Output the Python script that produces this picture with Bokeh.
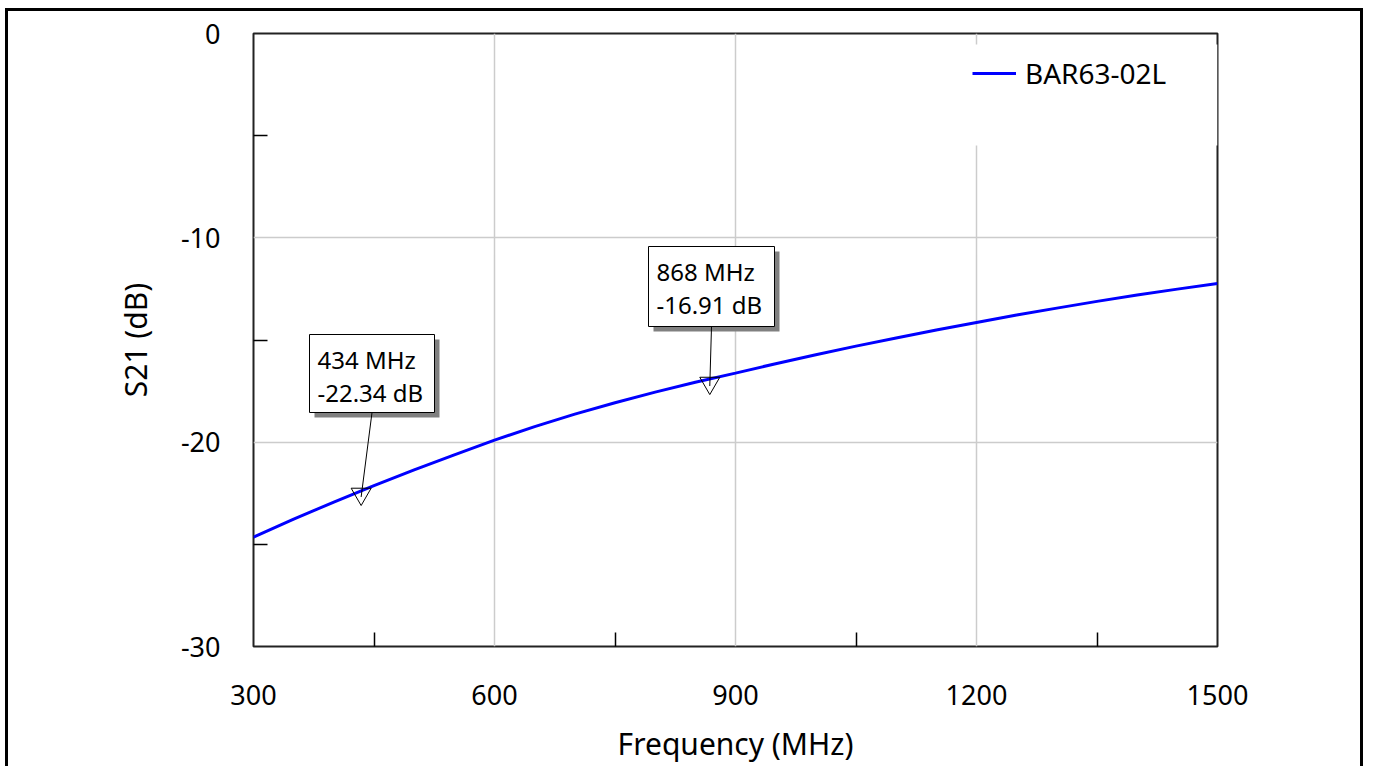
from bokeh.plotting import figure
from bokeh.embed import file_html
from bokeh.resources import INLINE
from bokeh.models import FixedTicker, Range1d, Legend, LegendItem, BoxAnnotation
from bokeh.core.properties import value

# ---- data ----
freq_mhz = [300, 350, 400, 450, 500, 550, 600, 650, 700, 750, 800, 850, 900,
            950, 1000, 1050, 1100, 1150, 1200, 1250, 1300, 1350, 1400, 1450, 1500]
s21_db = [-24.65, -23.77, -22.93, -22.13, -21.36, -20.62, -19.90, -19.24, -18.63,
          -18.07, -17.55, -17.07, -16.62, -16.16, -15.72, -15.30, -14.90, -14.51,
          -14.14, -13.78, -13.44, -13.11, -12.80, -12.51, -12.24]
series_name = "BAR63-02L"
marker_freq = [434, 868]
marker_db = [-22.34, -16.91]
marker_line1 = ["434 MHz", "868 MHz"]
marker_line2 = ["-22.34 dB", "-16.91 dB"]
x_ticks = [300, 600, 900, 1200, 1500]
x_minor = [450, 750, 1050, 1350]
y_ticks = [0, -10, -20, -30]
y_minor = [-5, -15, -25]

FONT = "Noto Sans"

# ---- layout helpers (page pixels -> data) ----
FL, FT, FW, FH = 253, 33, 964, 613
X0, X1, Y0, Y1 = 300, 1500, -30, 0
def dx(px):
    return X0 + (px - FL) * (X1 - X0) / FW
def dy(py):
    return Y1 - (py - FT) * (Y1 - Y0) / FH
def ddy(pix):
    return pix * (Y1 - Y0) / FH

p = figure(width=1358, height=758,
           x_range=Range1d(X0, X1), y_range=Range1d(Y0, Y1),
           output_backend="svg", toolbar_location=None,
           min_border_left=245, min_border_right=149,
           min_border_top=22, min_border_bottom=123,
           styles={"margin-left": "5px", "margin-top": "8px",
                   "border-top": "3px solid black", "border-left": "3px solid black",
                   "border-right": "3px solid black"})

p.outline_line_color = "#222222"
p.outline_line_width = 2
p.background_fill_color = "white"
p.border_fill_color = "white"

p.grid.grid_line_color = "#cccccc"
p.grid.grid_line_width = 1.5

for ax, ticks, minor in ((p.xaxis[0], x_ticks, x_minor), (p.yaxis[0], y_ticks, y_minor)):
    ax.ticker = FixedTicker(ticks=ticks, minor_ticks=minor)
    ax.major_label_overrides = {t: str(t) for t in ticks}
    ax.axis_line_color = None
    ax.major_tick_in = 0
    ax.major_tick_out = 0
    ax.minor_tick_in = 14
    ax.minor_tick_out = 0
    ax.minor_tick_line_color = "black"
    ax.minor_tick_line_width = 1.5
    ax.major_label_text_font = FONT
    ax.major_label_text_font_size = "27px"
    ax.major_label_text_color = "black"
    ax.axis_label_text_font = FONT
    ax.axis_label_text_font_size = "30px"
    ax.axis_label_text_font_style = "normal"
    ax.axis_label_text_color = "black"

p.xaxis.axis_label = "Frequency (MHz)"
p.yaxis.axis_label = "S21 (dB)"
p.xaxis.major_label_standoff = 38
p.xaxis.axis_label_standoff = 15
p.yaxis.major_label_standoff = 33
p.yaxis.axis_label_standoff = 22

# white area behind legend (hides grid there)
p.add_layout(BoxAnnotation(left=dx(962), right=X1, top=dy(44), bottom=dy(145),
                           fill_color="white", fill_alpha=1, line_color=None,
                           level="underlay"))

curve = p.line(freq_mhz, s21_db, line_color="#0000ff", line_width=3)

# marker annotations
box_px = [(309, 334, 434, 412), (648, 246, 774, 326)]
for i in range(len(marker_freq)):
    l, t, r, b = box_px[i]
    # shadow
    p.quad(left=[dx(l + 5)], right=[dx(r + 5)], top=[dy(t + 5)], bottom=[dy(b + 5)],
           fill_color="#808080", line_color=None)
    p.quad(left=[dx(l)], right=[dx(r)], top=[dy(t)], bottom=[dy(b)],
           fill_color="white", line_color="black", line_width=1)
    p.text(x=[dx(l + 8)], y=[dy(t + 25)], text=[marker_line1[i]],
           text_font=value(FONT), text_font_size="24px", text_baseline="middle",
           text_align="left", text_color="black")
    p.text(x=[dx(l + 8)], y=[dy(t + 58)], text=[marker_line2[i]],
           text_font=value(FONT), text_font_size="24px", text_baseline="middle",
           text_align="left", text_color="black")
    p.segment(x0=[dx((l + r) / 2)], y0=[dy(b)], x1=[marker_freq[i]],
              y1=[marker_db[i] - ddy(7)], line_color="black", line_width=1)

p.scatter(marker_freq, [d - ddy(4) for d in marker_db],
          marker="inverted_triangle", size=20, fill_color=None,
          line_color="black", line_width=1)

legend = Legend(items=[LegendItem(label=series_name, renderers=[curve])],
                location="top_right", margin=21, padding=0,
                glyph_width=44, label_standoff=9, label_width=171, label_height=38,
                label_text_font=FONT, label_text_font_size="28px",
                label_text_color="black",
                background_fill_alpha=0, border_line_color=None)
p.add_layout(legend)

open("out.html", "w").write(file_html(p, INLINE))
